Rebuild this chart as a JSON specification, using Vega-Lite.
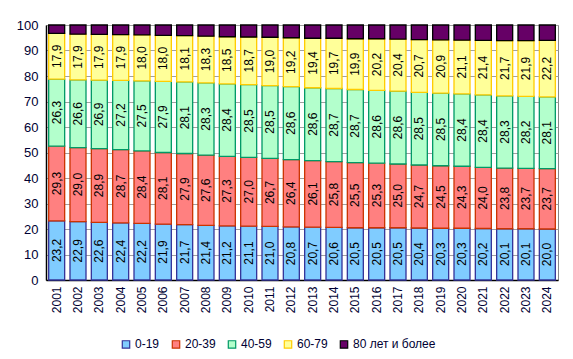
{
  "$schema": "https://vega.github.io/schema/vega-lite/v6.json",
  "autosize": "none",
  "width": 512,
  "height": 255,
  "padding": {"left": 46, "top": 25, "right": 15, "bottom": 79},
  "config": {
    "locale": {"number": {"decimal": ",", "thousands": " ", "grouping": [3], "currency": ["", ""]}},
    "view": {"stroke": "#888888", "strokeWidth": 1},
    "font": "Liberation Sans",
    "background": "white",
    "axisY": {"labelOverlap": false}
  },
  "data": {
    "values": [
      {"year": "2001", "group": "0-19", "v": 23.2}, {"year": "2001", "group": "20-39", "v": 29.3}, {"year": "2001", "group": "40-59", "v": 26.3}, {"year": "2001", "group": "60-79", "v": 17.9}, {"year": "2001", "group": "80 лет и более", "v": 3.3},
      {"year": "2002", "group": "0-19", "v": 22.9}, {"year": "2002", "group": "20-39", "v": 29.0}, {"year": "2002", "group": "40-59", "v": 26.6}, {"year": "2002", "group": "60-79", "v": 17.9}, {"year": "2002", "group": "80 лет и более", "v": 3.6},
      {"year": "2003", "group": "0-19", "v": 22.6}, {"year": "2003", "group": "20-39", "v": 28.9}, {"year": "2003", "group": "40-59", "v": 26.9}, {"year": "2003", "group": "60-79", "v": 17.9}, {"year": "2003", "group": "80 лет и более", "v": 3.7},
      {"year": "2004", "group": "0-19", "v": 22.4}, {"year": "2004", "group": "20-39", "v": 28.7}, {"year": "2004", "group": "40-59", "v": 27.2}, {"year": "2004", "group": "60-79", "v": 17.9}, {"year": "2004", "group": "80 лет и более", "v": 3.8},
      {"year": "2005", "group": "0-19", "v": 22.2}, {"year": "2005", "group": "20-39", "v": 28.4}, {"year": "2005", "group": "40-59", "v": 27.5}, {"year": "2005", "group": "60-79", "v": 18.0}, {"year": "2005", "group": "80 лет и более", "v": 3.9},
      {"year": "2006", "group": "0-19", "v": 21.9}, {"year": "2006", "group": "20-39", "v": 28.1}, {"year": "2006", "group": "40-59", "v": 27.9}, {"year": "2006", "group": "60-79", "v": 18.0}, {"year": "2006", "group": "80 лет и более", "v": 4.1},
      {"year": "2007", "group": "0-19", "v": 21.7}, {"year": "2007", "group": "20-39", "v": 27.9}, {"year": "2007", "group": "40-59", "v": 28.1}, {"year": "2007", "group": "60-79", "v": 18.1}, {"year": "2007", "group": "80 лет и более", "v": 4.2},
      {"year": "2008", "group": "0-19", "v": 21.4}, {"year": "2008", "group": "20-39", "v": 27.6}, {"year": "2008", "group": "40-59", "v": 28.3}, {"year": "2008", "group": "60-79", "v": 18.3}, {"year": "2008", "group": "80 лет и более", "v": 4.4},
      {"year": "2009", "group": "0-19", "v": 21.2}, {"year": "2009", "group": "20-39", "v": 27.3}, {"year": "2009", "group": "40-59", "v": 28.4}, {"year": "2009", "group": "60-79", "v": 18.5}, {"year": "2009", "group": "80 лет и более", "v": 4.6},
      {"year": "2010", "group": "0-19", "v": 21.1}, {"year": "2010", "group": "20-39", "v": 27.0}, {"year": "2010", "group": "40-59", "v": 28.5}, {"year": "2010", "group": "60-79", "v": 18.7}, {"year": "2010", "group": "80 лет и более", "v": 4.7},
      {"year": "2011", "group": "0-19", "v": 21.0}, {"year": "2011", "group": "20-39", "v": 26.7}, {"year": "2011", "group": "40-59", "v": 28.5}, {"year": "2011", "group": "60-79", "v": 19.0}, {"year": "2011", "group": "80 лет и более", "v": 4.8},
      {"year": "2012", "group": "0-19", "v": 20.8}, {"year": "2012", "group": "20-39", "v": 26.4}, {"year": "2012", "group": "40-59", "v": 28.6}, {"year": "2012", "group": "60-79", "v": 19.2}, {"year": "2012", "group": "80 лет и более", "v": 5.0},
      {"year": "2013", "group": "0-19", "v": 20.7}, {"year": "2013", "group": "20-39", "v": 26.1}, {"year": "2013", "group": "40-59", "v": 28.6}, {"year": "2013", "group": "60-79", "v": 19.4}, {"year": "2013", "group": "80 лет и более", "v": 5.2},
      {"year": "2014", "group": "0-19", "v": 20.6}, {"year": "2014", "group": "20-39", "v": 25.8}, {"year": "2014", "group": "40-59", "v": 28.7}, {"year": "2014", "group": "60-79", "v": 19.7}, {"year": "2014", "group": "80 лет и более", "v": 5.2},
      {"year": "2015", "group": "0-19", "v": 20.5}, {"year": "2015", "group": "20-39", "v": 25.5}, {"year": "2015", "group": "40-59", "v": 28.7}, {"year": "2015", "group": "60-79", "v": 19.9}, {"year": "2015", "group": "80 лет и более", "v": 5.4},
      {"year": "2016", "group": "0-19", "v": 20.5}, {"year": "2016", "group": "20-39", "v": 25.3}, {"year": "2016", "group": "40-59", "v": 28.6}, {"year": "2016", "group": "60-79", "v": 20.2}, {"year": "2016", "group": "80 лет и более", "v": 5.4},
      {"year": "2017", "group": "0-19", "v": 20.5}, {"year": "2017", "group": "20-39", "v": 25.0}, {"year": "2017", "group": "40-59", "v": 28.6}, {"year": "2017", "group": "60-79", "v": 20.4}, {"year": "2017", "group": "80 лет и более", "v": 5.5},
      {"year": "2018", "group": "0-19", "v": 20.4}, {"year": "2018", "group": "20-39", "v": 24.7}, {"year": "2018", "group": "40-59", "v": 28.5}, {"year": "2018", "group": "60-79", "v": 20.7}, {"year": "2018", "group": "80 лет и более", "v": 5.7},
      {"year": "2019", "group": "0-19", "v": 20.3}, {"year": "2019", "group": "20-39", "v": 24.5}, {"year": "2019", "group": "40-59", "v": 28.5}, {"year": "2019", "group": "60-79", "v": 20.9}, {"year": "2019", "group": "80 лет и более", "v": 5.8},
      {"year": "2020", "group": "0-19", "v": 20.3}, {"year": "2020", "group": "20-39", "v": 24.3}, {"year": "2020", "group": "40-59", "v": 28.4}, {"year": "2020", "group": "60-79", "v": 21.1}, {"year": "2020", "group": "80 лет и более", "v": 5.9},
      {"year": "2021", "group": "0-19", "v": 20.2}, {"year": "2021", "group": "20-39", "v": 24.0}, {"year": "2021", "group": "40-59", "v": 28.4}, {"year": "2021", "group": "60-79", "v": 21.4}, {"year": "2021", "group": "80 лет и более", "v": 6.0},
      {"year": "2022", "group": "0-19", "v": 20.1}, {"year": "2022", "group": "20-39", "v": 23.8}, {"year": "2022", "group": "40-59", "v": 28.3}, {"year": "2022", "group": "60-79", "v": 21.7}, {"year": "2022", "group": "80 лет и более", "v": 6.1},
      {"year": "2023", "group": "0-19", "v": 20.1}, {"year": "2023", "group": "20-39", "v": 23.7}, {"year": "2023", "group": "40-59", "v": 28.2}, {"year": "2023", "group": "60-79", "v": 21.9}, {"year": "2023", "group": "80 лет и более", "v": 6.1},
      {"year": "2024", "group": "0-19", "v": 20.0}, {"year": "2024", "group": "20-39", "v": 23.7}, {"year": "2024", "group": "40-59", "v": 28.1}, {"year": "2024", "group": "60-79", "v": 22.2}, {"year": "2024", "group": "80 лет и более", "v": 6.0}
    ]
  },
  "transform": [
    {"stack": "v", "groupby": ["year"], "sort": [{"field": "group", "order": "ascending"}], "as": ["y0", "y1"]},
    {"calculate": "(datum.y0 + datum.y1) / 2", "as": "ymid"}
  ],
  "encoding": {
    "x": {
      "field": "year", "type": "ordinal",
      "scale": {"paddingInner": 0.25, "paddingOuter": 0.125},
      "axis": {"title": null, "labelAngle": 270, "labelFontSize": 12, "labelColor": "#000033", "labelFont": "Liberation Sans", "ticks": false, "domainColor": "#000000", "domainWidth": 1.5, "labelPadding": 6}
    }
  },
  "layer": [
    {
      "mark": {"type": "bar", "strokeWidth": 1.3},
      "encoding": {
        "y": {
          "field": "y0", "type": "quantitative",
          "scale": {"domain": [0, 100], "nice": false},
          "axis": {"title": null, "values": [0, 10, 20, 30, 40, 50, 60, 70, 80, 90, 100], "labelOverlap": false, "grid": true, "gridColor": "#a0a0a0", "gridWidth": 1, "ticks": false, "labelFontSize": 13, "labelColor": "#000033", "labelFont": "Liberation Sans", "domainColor": "#000000", "domainWidth": 1.5, "labelPadding": 8}
        },
        "y2": {"field": "y1"},
        "fill": {
          "field": "group", "type": "nominal",
          "scale": {"domain": ["0-19", "20-39", "40-59", "60-79", "80 лет и более"], "range": ["#80CCFF", "#FF8080", "#B3FFCC", "#FFFF99", "#660066"]},
          "legend": {
            "title": null, "orient": "none", "direction": "horizontal", "legendX": 74, "legendY": 313,
            "symbolType": "square", "symbolSize": 55, "symbolStrokeWidth": 1.2,
            "labelFontSize": 12, "labelColor": "#000033", "labelFont": "Liberation Sans", "labelOffset": 3, "columnPadding": 9
          }
        },
        "stroke": {
          "field": "group", "type": "nominal",
          "scale": {"domain": ["0-19", "20-39", "40-59", "60-79", "80 лет и более"], "range": ["#333399", "#CC3300", "#009966", "#FFCC00", "#000000"]},
          "legend": null
        }
      }
    },
    {
      "transform": [{"filter": "datum.group !== '80 лет и более'"}],
      "mark": {"type": "text", "angle": 270, "align": "center", "baseline": "middle", "fontSize": 12, "font": "Liberation Sans", "color": "#000000"},
      "encoding": {
        "y": {
          "field": "ymid", "type": "quantitative",
          "axis": {"title": null, "values": [0, 10, 20, 30, 40, 50, 60, 70, 80, 90, 100], "labelOverlap": false, "grid": true, "gridColor": "#a0a0a0", "gridWidth": 1, "ticks": false, "labelFontSize": 13, "labelColor": "#000033", "labelFont": "Liberation Sans", "domainColor": "#000000", "domainWidth": 1.5, "labelPadding": 8}
        },
        "text": {"field": "v", "type": "quantitative", "format": ".1f"}
      }
    }
  ]
}
